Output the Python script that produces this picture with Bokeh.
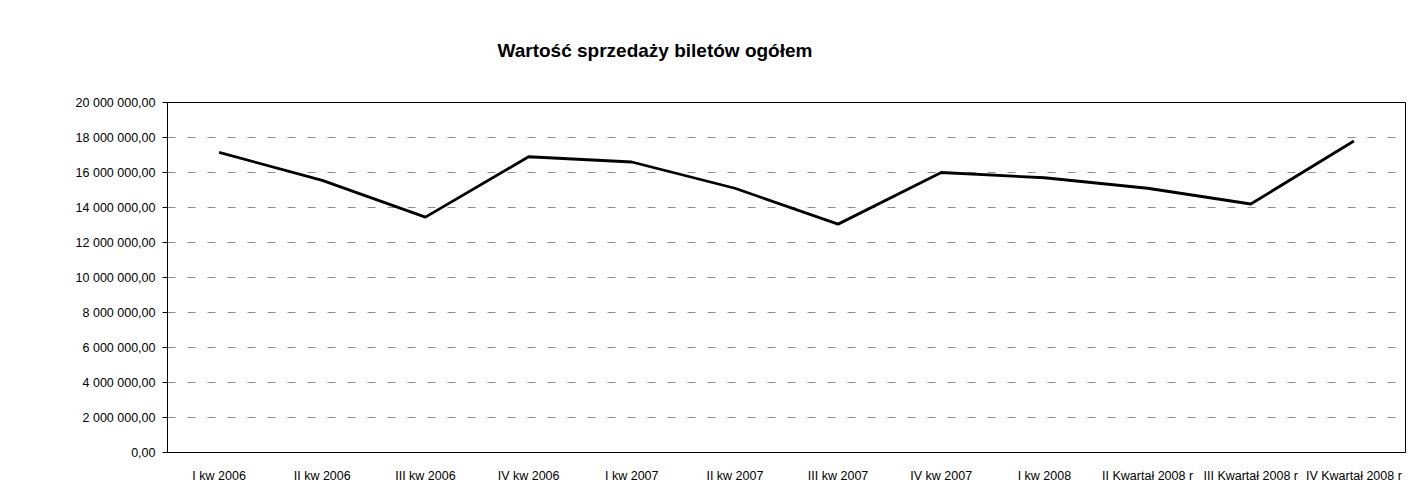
from bokeh.plotting import figure
from bokeh.embed import file_html
from bokeh.resources import INLINE
from bokeh.models import FixedTicker, Range1d, Title

categories = ["I kw 2006", "II kw 2006", "III kw 2006", "IV kw 2006",
              "I kw 2007", "II kw 2007", "III kw 2007", "IV kw 2007",
              "I kw 2008", "II Kwartał 2008 r", "III Kwartał 2008 r", "IV Kwartał 2008 r"]
values = [17150000, 15550000, 13450000, 16900000, 16600000, 15100000,
          13050000, 16000000, 15700000, 15100000, 14200000, 17800000]
y_ticks = [0, 2000000, 4000000, 6000000, 8000000, 10000000, 12000000,
           14000000, 16000000, 18000000, 20000000]
y_tick_labels = ["0,00", "2 000 000,00", "4 000 000,00", "6 000 000,00",
                 "8 000 000,00", "10 000 000,00", "12 000 000,00", "14 000 000,00",
                 "16 000 000,00", "18 000 000,00", "20 000 000,00"]
title_text = "Wartość sprzedaży biletów ogółem"

p = figure(x_range=categories, width=1407, height=485,
           output_backend="svg", toolbar_location=None,
           min_border_left=167, min_border_right=2, min_border_top=102, min_border_bottom=32)
p.y_range = Range1d(0, 20000000)
p.x_range.range_padding = 0

p.line(categories, values, line_color="black", line_width=2.8)

p.title = None
spacer = Title(text=" ", text_font_size="22px")
p.add_layout(spacer, "above")
main_title = Title(text=title_text, align="left", offset=330,
                   text_font="Liberation Sans", text_font_size="19px",
                   text_font_style="bold", text_color="black")
p.add_layout(main_title, "above")

p.yaxis.ticker = FixedTicker(ticks=y_ticks)
p.yaxis.major_label_overrides = {t: l for t, l in zip(y_ticks, y_tick_labels)}
for ax in (p.xaxis, p.yaxis):
    ax.major_label_text_font = "Liberation Sans"
    ax.major_label_text_font_size = "12.5px"
    ax.major_label_text_color = "black"
    ax.axis_line_color = "black"
    ax.axis_line_width = 1
    ax.minor_tick_line_color = None
p.yaxis.major_tick_line_color = "black"
p.yaxis.major_tick_out = 5
p.yaxis.major_tick_in = 0
p.yaxis.major_label_standoff = 7
p.xaxis.major_tick_line_color = None
p.xaxis.major_label_standoff = 10

p.xgrid.grid_line_color = None
p.ygrid.grid_line_color = "#444444"
p.ygrid.grid_line_dash = "8 12"
p.ygrid.grid_line_alpha = 0.6

p.outline_line_color = "black"
p.outline_line_width = 1
p.background_fill_color = "white"
p.border_fill_color = "white"

open("out.html", "w").write(file_html(p, INLINE))
